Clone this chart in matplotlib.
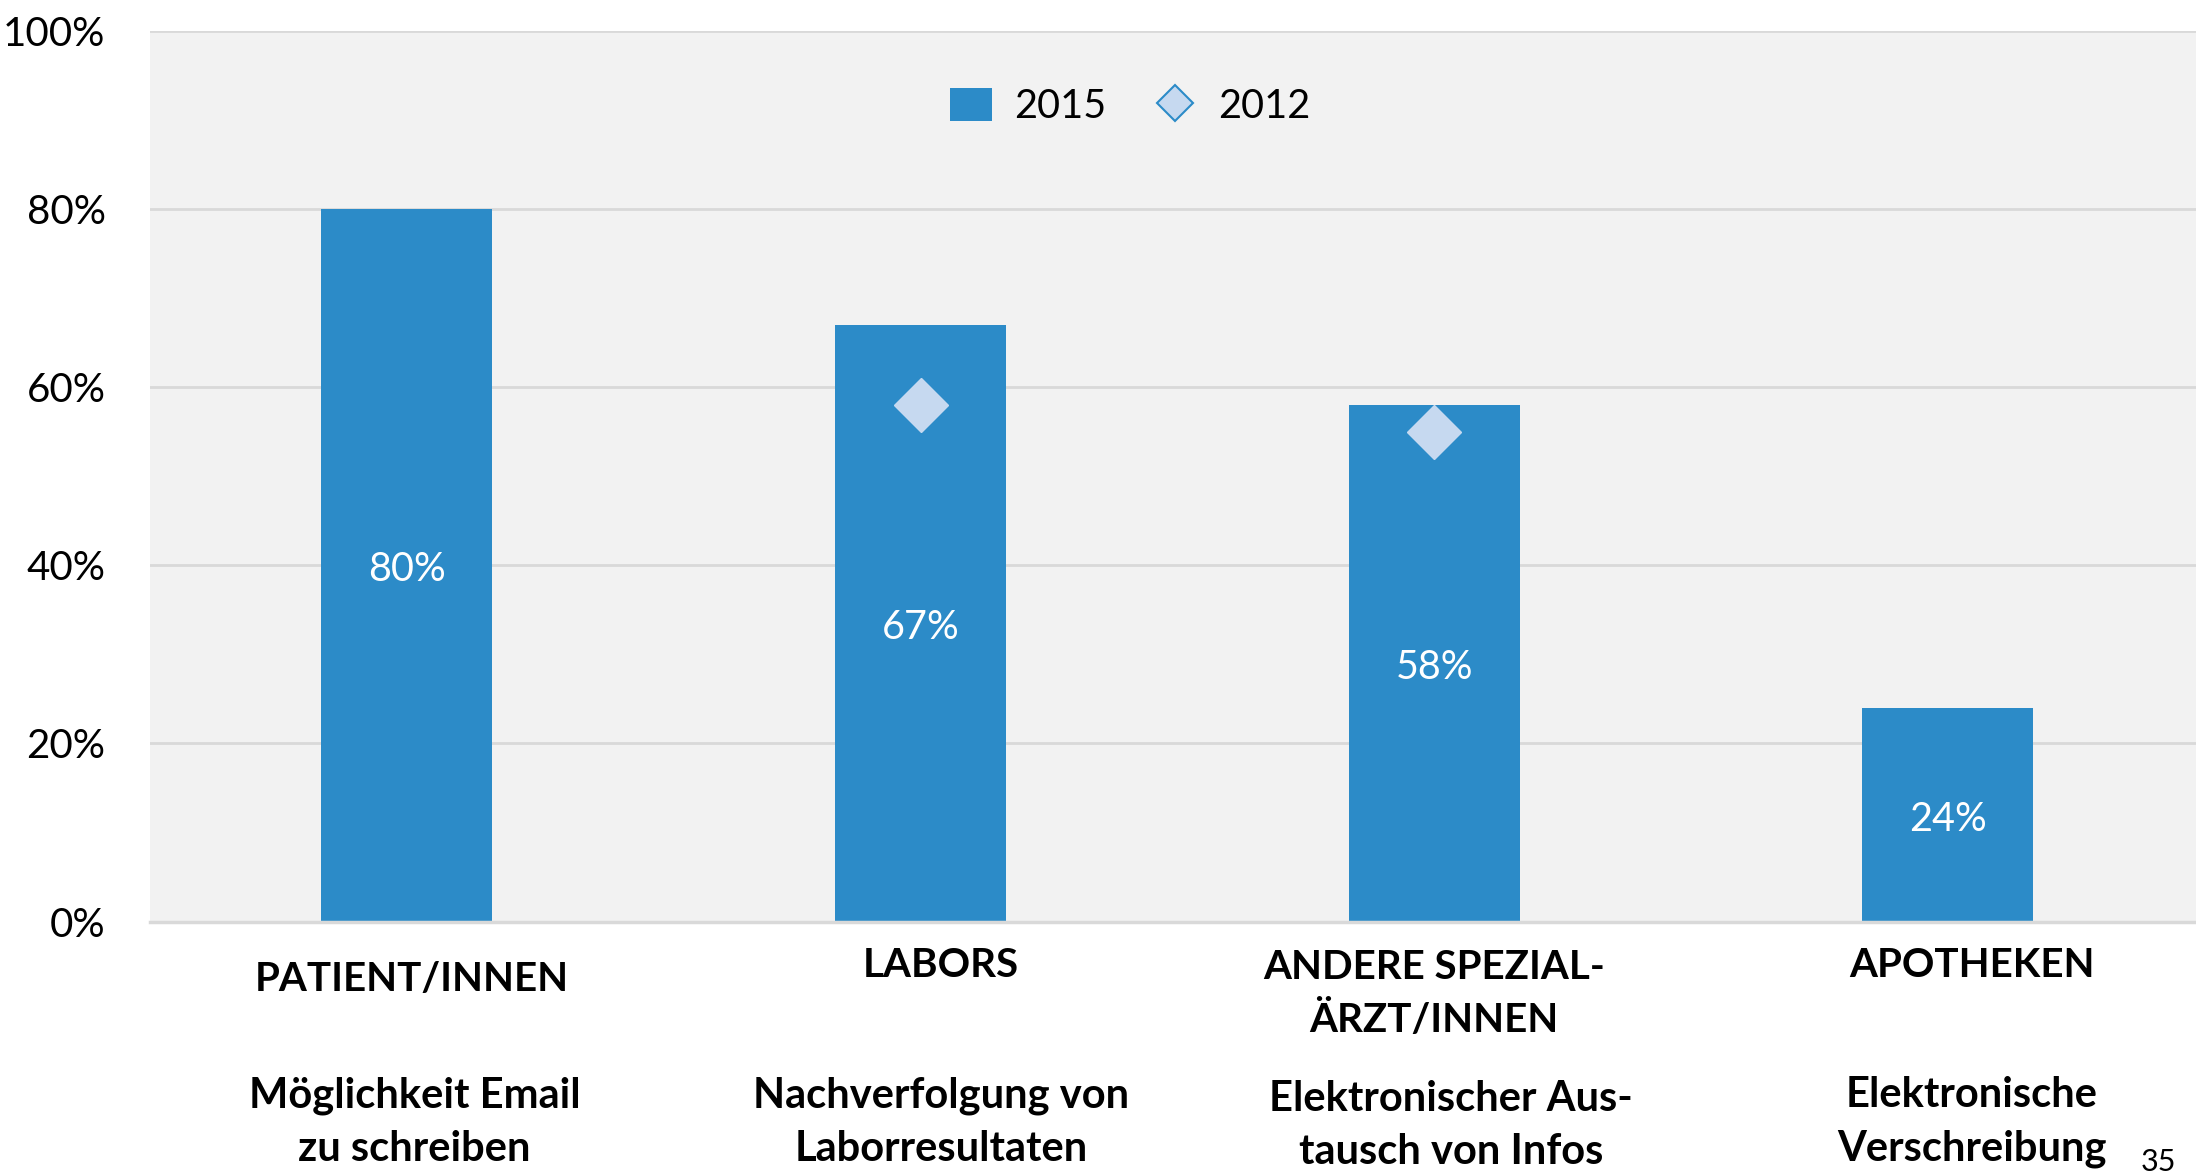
import matplotlib.pyplot as plt
from matplotlib.patches import Patch
from matplotlib.lines import Line2D
from matplotlib.transforms import blended_transform_factory

plt.rcParams['font.family'] = ['Lato', 'DejaVu Sans']

categories = ['PATIENT/INNEN', 'LABORS', 'ANDERE SPEZIAL-\nÄRZT/INNEN', 'APOTHEKEN']
subtitles = ['Möglichkeit Email\nzu schreiben', 'Nachverfolgung von\nLaborresultaten',
             'Elektronischer Aus-\ntausch von Infos', 'Elektronische\nVerschreibung']
values_2015 = [80, 67, 58, 24]
values_2012 = [None, 58, 55, None]
yticks = [0, 20, 40, 60, 80, 100]

bar_color = '#2C8BC8'
diamond_color = '#C6D9F0'

fig = plt.figure(figsize=(21.96, 11.75), dpi=100)
ax = fig.add_axes([0.0683, 0.2157, 1.004 - 0.0683, 0.9736 - 0.2157])
ax.set_facecolor('#F2F2F2')

x = list(range(len(categories)))
ax.bar(x, values_2015, width=0.333, color=bar_color, zorder=2)
for i, v in enumerate(values_2015):
    ax.text(i, v / 2 - 0.5, f'{v}%', ha='center', va='center', color='white', fontsize=28.5, zorder=4)

xs = [i for i, v in enumerate(values_2012) if v is not None]
ys = [v for v in values_2012 if v is not None]
ax.plot(xs, ys, linestyle='none', marker='D', markersize=28, markerfacecolor=diamond_color,
        markeredgecolor=diamond_color, zorder=3)

ax.set_xlim(-0.5, 3.5)
ax.set_ylim(0, 100)
ax.set_yticks(yticks)
ax.set_yticklabels([f'{t}%' for t in yticks], fontsize=29)
ax.set_xticks([])
ax.tick_params(axis='y', length=0, pad=32)
ax.grid(axis='y', color='#D9D9D9', linewidth=2, zorder=0)
ax.set_axisbelow(True)
for s in ['left', 'right', 'top']:
    ax.spines[s].set_visible(False)
ax.spines['bottom'].set_color('#D9D9D9')
ax.spines['bottom'].set_linewidth(2.5)

handles = [Patch(facecolor=bar_color, edgecolor='none', label='2015'),
           Line2D([], [], linestyle='none', marker='D', markersize=18, markerfacecolor=diamond_color,
                  markeredgecolor=bar_color, markeredgewidth=1.5, label='2012')]
ax.legend(handles=handles, loc='center', bbox_to_anchor=(0.477, 0.915), ncol=2, frameon=False,
          fontsize=28.5, handlelength=1.08, handleheight=0.87, handletextpad=0.55, columnspacing=1.2)

# category labels below the axis
trans = blended_transform_factory(ax.transData, fig.transFigure)
head_dx = [0.01, 0.04, 0.0, 0.046]
head_y = [0.166, 0.178, 0.154, 0.178]
sub_dx = [0.015, 0.04, 0.033, 0.046]
sub_y = [0.045, 0.045, 0.042, 0.045]
for i in x:
    ax.text(i + head_dx[i], head_y[i], categories[i], transform=trans, ha='center', va='center',
            fontsize=29, fontweight='bold', linespacing=1.5)
    ax.text(i + sub_dx[i], sub_y[i], subtitles[i], transform=trans, ha='center', va='center',
            fontsize=30, fontweight='bold', linespacing=1.5)

fig.text(0.983, 0.011, '35', ha='center', va='center', fontsize=22)

fig.savefig('out.png', dpi=100)
